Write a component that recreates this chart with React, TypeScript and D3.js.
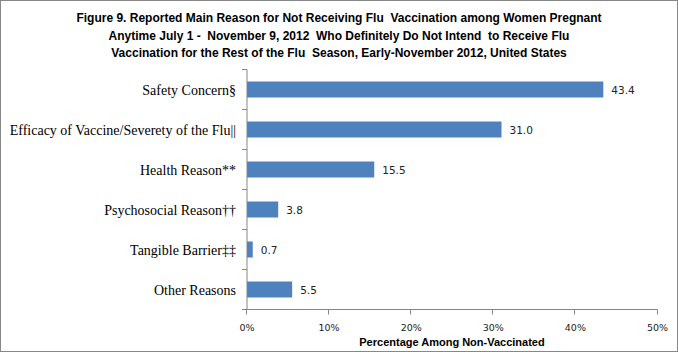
import React, { useEffect, useRef } from 'react';
import * as d3 from 'd3';

const categories = [
  'Safety Concern§',
  'Efficacy of Vaccine/Severety of the Flu||',
  'Health Reason**',
  'Psychosocial Reason††',
  'Tangible Barrier‡‡',
  'Other Reasons',
];
const values = [43.4, 31.0, 15.5, 3.8, 0.7, 5.5];
const xTicks = [0, 10, 20, 30, 40, 50];
const titleLines = [
  'Figure 9. Reported Main Reason for Not Receiving Flu  Vaccination among Women Pregnant',
  'Anytime July 1 -  November 9, 2012  Who Definitely Do Not Intend  to Receive Flu',
  'Vaccination for the Rest of the Flu  Season, Early-November 2012, United States',
];
const xTitle = 'Percentage Among Non-Vaccinated';

const W = 678;
const H = 352;
const barColor = '#4F81BD';
const axisColor = '#868686';

export default function App() {
  const ref = useRef<SVGSVGElement>(null);

  useEffect(() => {
    const svg = d3.select(ref.current);
    svg.selectAll('*').remove();

    // outer border
    svg.append('rect')
      .attr('x', 0.5).attr('y', 0.5)
      .attr('width', W - 1).attr('height', H - 1)
      .attr('fill', '#fff').attr('stroke', '#888');

    // title
    svg.append('g')
      .selectAll('text')
      .data(titleLines)
      .enter()
      .append('text')
      .attr('x', 339)
      .attr('y', (d, i) => 22 + i * 17.5)
      .attr('text-anchor', 'middle')
      .style('font-family', '"Liberation Sans", Arial, sans-serif')
      .style('font-weight', 700)
      .style('font-size', '12px')
      .style('white-space', 'pre')
      .text(d => d);

    const x = d3.scaleLinear().domain([0, 50]).range([247, 657.5]);
    const y = d3.scaleBand().domain(categories).range([69.5, 309.5]).paddingInner(0.6).paddingOuter(0.3);

    // bars
    svg.append('g')
      .selectAll('rect')
      .data(values)
      .enter()
      .append('rect')
      .attr('x', x(0))
      .attr('y', (d, i) => y(categories[i])!)
      .attr('width', d => x(d) - x(0))
      .attr('height', y.bandwidth())
      .attr('fill', barColor);

    // value labels
    svg.append('g')
      .selectAll('text')
      .data(values)
      .enter()
      .append('text')
      .attr('x', d => x(d) + 8)
      .attr('y', (d, i) => y(categories[i])! + y.bandwidth() / 2 + 4)
      .style('font-family', '"DejaVu Sans", Verdana, sans-serif')
      .style('font-size', '10.5px')
      .style('fill', '#222')
      .text(d => d.toFixed(1));

    // y axis
    const yTop = 69.5, yBot = 309.5;
    const step = (yBot - yTop) / categories.length;
    const ya = svg.append('g');
    ya.append('line')
      .attr('x1', 247).attr('x2', 247)
      .attr('y1', yTop).attr('y2', yBot)
      .attr('stroke', axisColor);
    ya.selectAll('line.tk')
      .data(d3.range(categories.length + 1))
      .enter()
      .append('line')
      .attr('class', 'tk')
      .attr('x1', 242).attr('x2', 247)
      .attr('y1', i => Math.round(yTop + i * step) - 0.5)
      .attr('y2', i => Math.round(yTop + i * step) - 0.5)
      .attr('stroke', axisColor);
    ya.selectAll('text')
      .data(categories)
      .enter()
      .append('text')
      .attr('x', 236)
      .attr('y', (d, i) => yTop + (i + 0.5) * step + 5)
      .attr('text-anchor', 'end')
      .style('font-family', '"Liberation Serif", "Times New Roman", serif')
      .style('font-size', '14px')
      .style('fill', '#000')
      .text(d => d);

    // x axis
    const xa = svg.append('g');
    xa.append('line')
      .attr('x1', x(0)).attr('x2', x(50))
      .attr('y1', 309.5).attr('y2', 309.5)
      .attr('stroke', axisColor);
    xa.selectAll('line.tk')
      .data(xTicks)
      .enter()
      .append('line')
      .attr('class', 'tk')
      .attr('x1', d => Math.round(x(d)) - 0.5)
      .attr('x2', d => Math.round(x(d)) - 0.5)
      .attr('y1', 309.5).attr('y2', 314.5)
      .attr('stroke', axisColor);
    xa.selectAll('text')
      .data(xTicks)
      .enter()
      .append('text')
      .attr('x', d => x(d))
      .attr('y', 331)
      .attr('text-anchor', 'middle')
      .style('font-family', '"DejaVu Sans", Verdana, sans-serif')
      .style('font-size', '9.5px')
      .style('fill', '#222')
      .text(d => d + '%');

    svg.append('text')
      .attr('x', 452)
      .attr('y', 346)
      .attr('text-anchor', 'middle')
      .style('font-family', '"Liberation Sans", Arial, sans-serif')
      .style('font-weight', 700)
      .style('font-size', '11px')
      .text(xTitle);
  }, []);

  return (
    <svg ref={ref} width={W} height={H}
      style={{ position: 'absolute', left: 0, top: 0, display: 'block' }} />
  );
}
